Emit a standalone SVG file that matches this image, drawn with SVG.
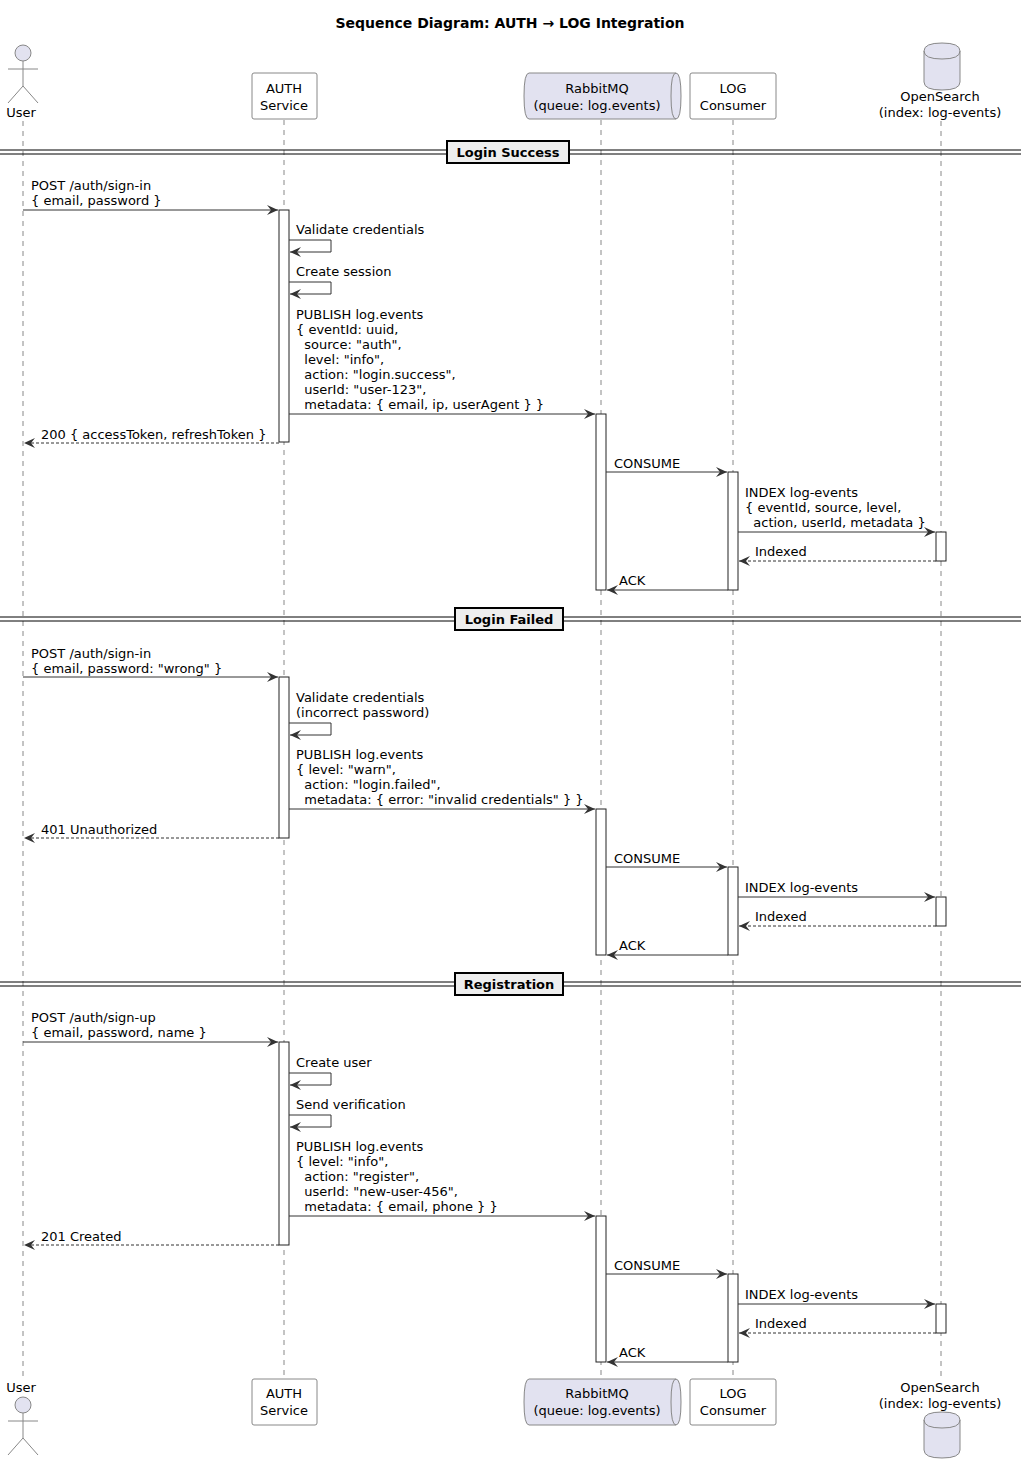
<svg xmlns="http://www.w3.org/2000/svg" width="1021" height="1463" viewBox="0 0 1021 1463">
<style>
text{font-family:"DejaVu Sans","Liberation Sans",sans-serif;font-size:13px;fill:#000}
.t{font-weight:bold;font-size:14px}
.life{stroke:#888;stroke-dasharray:5,5;fill:none}
.box{fill:#fff;stroke:#888}
.pb{fill:#E2E2F0;stroke:#888}
.act{fill:#fff;stroke:#222}
.m{stroke:#333;fill:none;marker-end:url(#ah)}
.r{stroke:#333;fill:none;stroke-dasharray:3,2;marker-end:url(#ah)}
.div{stroke:#000;stroke-width:1}
.db{fill:#EEE;stroke:#000;stroke-width:2}
.c{text-anchor:middle}
</style>
<defs>
<marker id="ah" markerWidth="12" markerHeight="10" refX="11" refY="5" orient="auto" markerUnits="userSpaceOnUse">
<path d="M0,0 L11,5 L0,10 L4,5 z" fill="#333"/>
</marker>
</defs>
<rect width="1021" height="1463" fill="#fff"/>
<text x="510" y="28" class="t c">Sequence Diagram: AUTH → LOG Integration</text>
<g id="lifelines">
<line class="life" x1="23" y1="121" x2="23" y2="1378"/>
<line class="life" x1="284" y1="120" x2="284" y2="1378"/>
<line class="life" x1="601" y1="120" x2="601" y2="1378"/>
<line class="life" x1="733" y1="120" x2="733" y2="1378"/>
<line class="life" x1="941" y1="121" x2="941" y2="1378"/>
</g>
<g id="user">
<circle class="pb" cx="23" cy="53" r="8"/>
<path d="M23,61 V86 M8,69 H38 M23,86 L8,103 M23,86 L38,103" stroke="#888" fill="none"/>
<text x="21" y="117" class="c">User</text>
<text x="21" y="1392" class="c">User</text>
<circle class="pb" cx="23" cy="1405" r="8"/>
<path d="M23,1413 V1438 M8,1421 H38 M23,1438 L8,1455 M23,1438 L38,1455" stroke="#888" fill="none"/>
</g>
<g id="auth">
<rect class="box" x="252" y="73" width="65" height="46" rx="2"/>
<text x="284" y="93" class="c">AUTH</text><text x="284" y="110" class="c">Service</text>
<rect class="box" x="252" y="1379" width="65" height="46" rx="2"/>
<text x="284" y="1398" class="c">AUTH</text><text x="284" y="1415" class="c">Service</text>
</g>
<g id="rabbitmq">
<path class="pb" d="M529,73 H676 Q681,73 681,96 Q681,119 676,119 H529 Q524,119 524,96 Q524,73 529,73 Z"/>
<path d="M676,73 Q671,73 671,96 Q671,119 676,119" fill="none" stroke="#888"/>
<text x="597" y="93" class="c">RabbitMQ</text><text x="597" y="110" class="c">(queue: log.events)</text>
<path class="pb" d="M529,1379 H676 Q681,1379 681,1402 Q681,1425 676,1425 H529 Q524,1425 524,1402 Q524,1379 529,1379 Z"/>
<path d="M676,1379 Q671,1379 671,1402 Q671,1425 676,1425" fill="none" stroke="#888"/>
<text x="597" y="1398" class="c">RabbitMQ</text><text x="597" y="1415" class="c">(queue: log.events)</text>
</g>
<g id="log">
<rect class="box" x="690" y="73" width="86" height="46" rx="2"/>
<text x="733" y="93" class="c">LOG</text><text x="733" y="110" class="c">Consumer</text>
<rect class="box" x="690" y="1379" width="86" height="46" rx="2"/>
<text x="733" y="1398" class="c">LOG</text><text x="733" y="1415" class="c">Consumer</text>
</g>
<g id="opensearch">
<path class="pb" d="M924,51 Q924,43 942,43 Q960,43 960,51 V82 Q960,90 942,90 Q924,90 924,82 Z"/>
<path d="M924,51 Q924,59 942,59 Q960,59 960,51" fill="none" stroke="#888"/>
<text x="940" y="101" class="c">OpenSearch</text><text x="940" y="117" class="c">(index: log-events)</text>
<text x="940" y="1392" class="c">OpenSearch</text><text x="940" y="1408" class="c">(index: log-events)</text>
<path class="pb" d="M924,1420 Q924,1412 942,1412 Q960,1412 960,1420 V1450 Q960,1458 942,1458 Q924,1458 924,1450 Z"/>
<path d="M924,1420 Q924,1428 942,1428 Q960,1428 960,1420" fill="none" stroke="#888"/>
</g>
<g id="activations">
<rect class="act" x="279" y="210" width="10" height="232"/>
<rect class="act" x="596" y="414" width="10" height="176"/>
<rect class="act" x="728" y="472" width="10" height="118"/>
<rect class="act" x="936" y="532" width="10" height="29"/>
<rect class="act" x="279" y="677" width="10" height="161"/>
<rect class="act" x="596" y="809" width="10" height="146"/>
<rect class="act" x="728" y="867" width="10" height="88"/>
<rect class="act" x="936" y="897" width="10" height="29"/>
<rect class="act" x="279" y="1042" width="10" height="203"/>
<rect class="act" x="596" y="1216" width="10" height="146"/>
<rect class="act" x="728" y="1274" width="10" height="88"/>
<rect class="act" x="936" y="1304" width="10" height="29"/>
</g>
<g id="dividers">
<path class="div" d="M0,150 H1021 M0,154 H1021"/>
<rect class="db" x="447" y="141" width="122" height="22"/>
<text x="508" y="157" class="c" font-weight="bold">Login Success</text>
<path class="div" d="M0,617 H1021 M0,621 H1021"/>
<rect class="db" x="455" y="608" width="108" height="22"/>
<text x="509" y="624" class="c" font-weight="bold">Login Failed</text>
<path class="div" d="M0,982 H1021 M0,986 H1021"/>
<rect class="db" x="455" y="973" width="108" height="22"/>
<text x="509" y="989" class="c" font-weight="bold">Registration</text>
</g>
<g id="connectors">
<!-- section 1 -->
<line class="m" x1="23" y1="210" x2="278" y2="210"/>
<text x="31" y="190">POST /auth/sign-in</text><text x="31" y="205">{ email, password }</text>
<path class="m" d="M289,240 H331 V252 H290"/>
<text x="296" y="234">Validate credentials</text>
<path class="m" d="M289,282 H331 V294 H290"/>
<text x="296" y="276">Create session</text>
<line class="m" x1="289" y1="414" x2="595" y2="414"/>
<text x="296" y="319">PUBLISH log.events</text>
<text x="296" y="334" xml:space="preserve">{ eventId: uuid,</text>
<text x="296" y="349" xml:space="preserve">  source: "auth",</text>
<text x="296" y="364" xml:space="preserve">  level: "info",</text>
<text x="296" y="379" xml:space="preserve">  action: "login.success",</text>
<text x="296" y="394" xml:space="preserve">  userId: "user-123",</text>
<text x="296" y="409" xml:space="preserve">  metadata: { email, ip, userAgent } }</text>
<line class="r" x1="279" y1="443" x2="24" y2="443"/>
<text x="41" y="439">200 { accessToken, refreshToken }</text>
<line class="m" x1="606" y1="472" x2="727" y2="472"/>
<text x="614" y="468">CONSUME</text>
<line class="m" x1="738" y1="532" x2="935" y2="532"/>
<text x="745" y="497">INDEX log-events</text>
<text x="745" y="512" xml:space="preserve">{ eventId, source, level,</text>
<text x="745" y="527" xml:space="preserve">  action, userId, metadata }</text>
<line class="r" x1="936" y1="561" x2="739" y2="561"/>
<text x="755" y="556">Indexed</text>
<line class="m" x1="728" y1="590" x2="607" y2="590"/>
<text x="619" y="585">ACK</text>
<!-- section 2 -->
<line class="m" x1="23" y1="677" x2="278" y2="677"/>
<text x="31" y="658">POST /auth/sign-in</text><text x="31" y="673">{ email, password: "wrong" }</text>
<path class="m" d="M289,723 H331 V735 H290"/>
<text x="296" y="702">Validate credentials</text><text x="296" y="717">(incorrect password)</text>
<line class="m" x1="289" y1="809" x2="595" y2="809"/>
<text x="296" y="759">PUBLISH log.events</text>
<text x="296" y="774" xml:space="preserve">{ level: "warn",</text>
<text x="296" y="789" xml:space="preserve">  action: "login.failed",</text>
<text x="296" y="804" xml:space="preserve">  metadata: { error: "invalid credentials" } }</text>
<line class="r" x1="279" y1="838" x2="24" y2="838"/>
<text x="41" y="834">401 Unauthorized</text>
<line class="m" x1="606" y1="867" x2="727" y2="867"/>
<text x="614" y="863">CONSUME</text>
<line class="m" x1="738" y1="897" x2="935" y2="897"/>
<text x="745" y="892">INDEX log-events</text>
<line class="r" x1="936" y1="926" x2="739" y2="926"/>
<text x="755" y="921">Indexed</text>
<line class="m" x1="728" y1="955" x2="607" y2="955"/>
<text x="619" y="950">ACK</text>
<!-- section 3 -->
<line class="m" x1="23" y1="1042" x2="278" y2="1042"/>
<text x="31" y="1022">POST /auth/sign-up</text><text x="31" y="1037">{ email, password, name }</text>
<path class="m" d="M289,1073 H331 V1085 H290"/>
<text x="296" y="1067">Create user</text>
<path class="m" d="M289,1115 H331 V1127 H290"/>
<text x="296" y="1109">Send verification</text>
<line class="m" x1="289" y1="1216" x2="595" y2="1216"/>
<text x="296" y="1151">PUBLISH log.events</text>
<text x="296" y="1166" xml:space="preserve">{ level: "info",</text>
<text x="296" y="1181" xml:space="preserve">  action: "register",</text>
<text x="296" y="1196" xml:space="preserve">  userId: "new-user-456",</text>
<text x="296" y="1211" xml:space="preserve">  metadata: { email, phone } }</text>
<line class="r" x1="279" y1="1245" x2="24" y2="1245"/>
<text x="41" y="1241">201 Created</text>
<line class="m" x1="606" y1="1274" x2="727" y2="1274"/>
<text x="614" y="1270">CONSUME</text>
<line class="m" x1="738" y1="1304" x2="935" y2="1304"/>
<text x="745" y="1299">INDEX log-events</text>
<line class="r" x1="936" y1="1333" x2="739" y2="1333"/>
<text x="755" y="1328">Indexed</text>
<line class="m" x1="728" y1="1362" x2="607" y2="1362"/>
<text x="619" y="1357">ACK</text>
</g>
</svg>
